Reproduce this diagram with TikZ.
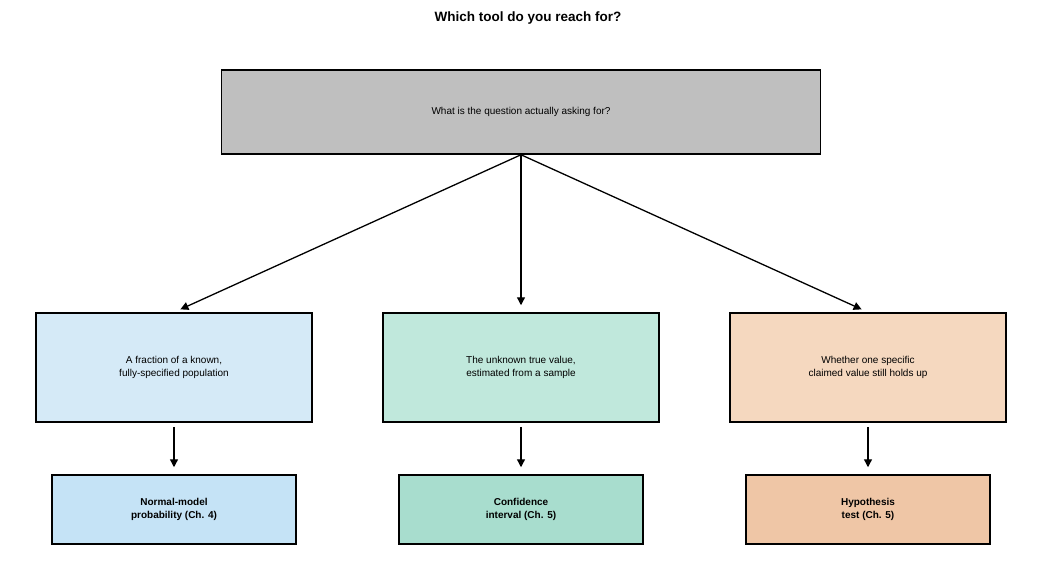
\documentclass[tikz,border=0pt]{standalone}
\usepackage{fontspec}
\setmainfont{Liberation Sans}
\usetikzlibrary{arrows.meta, positioning}
\definecolor{topgray}{HTML}{BFBFBF}
\definecolor{midblue}{HTML}{D5EAF7}
\definecolor{midgreen}{HTML}{C0E8DC}
\definecolor{midpeach}{HTML}{F5D8BF}
\definecolor{lowblue}{HTML}{C5E3F6}
\definecolor{lowgreen}{HTML}{A8DDCE}
\definecolor{lowpeach}{HTML}{EFC6A6}

\tikzset{
    box/.style={draw=black, line width=1.5pt, align=center, font=\fontsize{10}{13}\selectfont},
    midbox/.style={box, minimum width=276pt, minimum height=109pt},
    lowbox/.style={box, minimum width=244pt, minimum height=69pt, font=\fontsize{10}{13}\selectfont\bfseries},
    link/.style={-{Triangle[length=8pt,width=8pt]}, line width=1.3pt, shorten >=7pt}
}

\begin{document}
\begin{tikzpicture}[x=1pt, y=-1pt]
    \useasboundingbox (0,0) rectangle (1058,575);

    % Title
    \node[font=\fontsize{13.5}{16}\selectfont\bfseries] (title) at (528,18) {Which tool do you reach for?};

    % Question
    \node[box, fill=topgray, minimum width=599pt, minimum height=84pt] (ask) at (521,112) {What is the question actually asking for?};

    % Targets
    \node[midbox, fill=midblue] (pop) at (174,367.5) {A fraction of a known,\\fully-specified population};
    \node[midbox, fill=midgreen] (est) at (521,367.5) {The unknown true value,\\estimated from a sample};
    \node[midbox, fill=midpeach] (claim) at (868,367.5) {Whether one specific\\claimed value still holds up};

    % Tools
    \node[lowbox, fill=lowblue] (normal) at (174,509.5) {Normal-model\\probability (Ch. 4)};
    \node[lowbox, fill=lowgreen] (conf) at (521,509.5) {Confidence\\interval (Ch. 5)};
    \node[lowbox, fill=lowpeach] (hyp) at (868,509.5) {Hypothesis\\test (Ch. 5)};

    % Connectors
    \foreach \a/\b in {pop/normal, est/conf, claim/hyp}
        \draw[link, shorten <=4pt] (\a.south) -- (\b.north);
    \foreach \b in {pop, est, claim}
        \draw[link] (ask.south) -- (\b.north);
\end{tikzpicture}
\end{document}
